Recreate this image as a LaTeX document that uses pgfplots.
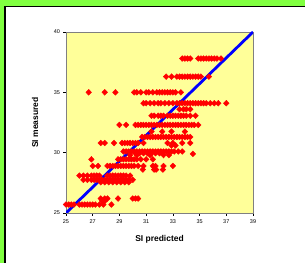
\documentclass[border=0pt]{standalone}
\usepackage{pgfplots}
\pgfplotsset{compat=1.18}
\usepackage{fontspec}
\setmainfont{Liberation Sans}
\definecolor{framegreen}{RGB}{128,255,64}
\definecolor{plotyellow}{RGB}{255,255,153}
\begin{document}
\begin{tikzpicture}[x=1bp,y=1bp]
\useasboundingbox (0,0) rectangle (305,263);
\fill[white] (0,0) rectangle (305,263);
\fill[framegreen] (0,0) rectangle (4.5,263);
\fill[framegreen] (0,257) rectangle (305,263);
\draw[black,line width=1.5bp] (5.2,0) -- (5.2,256.3) -- (305,256.3);
\begin{axis}[
  at={(66bp,50bp)}, anchor=south west,
  scale only axis, width=187bp, height=181bp,
  xmin=25, xmax=39, ymin=25, ymax=40,
  xtick={25,27,...,39}, ytick={25,30,35,40},
  axis background/.style={fill=plotyellow},
  axis line style={draw=gray},
  tick style={black, line width=0.5bp},
  tick align=outside, major tick length=2.5bp,
  xtick pos=bottom, ytick pos=left,
  tick label style={font=\fontsize{5.5}{6}\selectfont, /pgf/number format/assume math mode=true},
  x tick label style={yshift=-1bp},
  xlabel={\textbf{SI predicted}}, ylabel={\textbf{SI measured}},
  label style={font=\fontsize{8.5}{10}\selectfont},
  xlabel style={at={(axis description cs:0.5,-0.145)}, anchor=center},
  ylabel style={at={(axis description cs:-0.165,0.5)}, anchor=center},
]
\addplot[only marks, mark=diamond*, mark size=2.9bp, red, mark options={draw=red, fill=red, xscale=1.3}] coordinates {
(33.7,37.8)(33.9,37.8)(34.1,37.8)(34.3,37.8)(34.9,37.8)(35.1,37.8)(35.3,37.8)(35.5,37.8)(35.7,37.8)(35.9,37.8)(36.1,37.8)(36.3,37.8)(36.6,37.8)
(32.5,36.3)(32.9,36.3)(33.3,36.3)(33.5,36.3)(33.7,36.3)(33.9,36.3)(34.1,36.3)(34.3,36.3)(34.5,36.3)(34.7,36.3)(34.9,36.3)(35.1,36.3)(35.7,36.3)
(26.7,35.0)(27.9,35.0)(28.7,35.0)(30.1,35.0)(30.3,35.0)(30.6,35.0)(31.0,35.0)(31.2,35.0)(31.5,35.0)(31.8,35.0)(32.0,35.0)(32.2,35.0)(32.4,35.0)(32.6,35.0)(32.8,35.0)(33.0,35.0)(33.2,35.0)(33.6,35.0)
(30.8,34.1)(31.0,34.1)(31.3,34.1)(31.6,34.1)(31.9,34.1)(32.1,34.1)(32.4,34.1)(32.7,34.1)(33.0,34.1)(33.3,34.1)(33.5,34.1)(33.7,34.1)(33.9,34.1)(34.1,34.1)(34.3,34.1)(34.5,34.1)(34.7,34.1)(34.9,34.1)(35.1,34.1)(35.3,34.1)(35.5,34.1)(35.8,34.1)(36.1,34.1)(36.4,34.1)(37.0,34.1)
(33.5,33.6)(33.8,33.6)(34.0,33.6)(34.3,33.6)
(31.4,33.06)(31.6,33.06)(31.9,33.06)(32.1,33.06)(32.3,33.06)(32.6,33.06)(32.8,33.06)(33.0,33.06)(33.2,33.06)(33.4,33.06)(33.6,33.06)(33.8,33.06)(34.0,33.06)(34.3,33.06)(34.7,33.06)
(29.0,32.3)(29.5,32.3)(30.2,32.3)(30.4,32.3)(30.6,32.3)(30.8,32.3)(31.0,32.3)(31.2,32.3)(31.4,32.3)(31.6,32.3)(31.8,32.3)(32.0,32.3)(32.2,32.3)(32.4,32.3)(32.6,32.3)(32.8,32.3)(33.0,32.3)(33.2,32.3)(33.4,32.3)(33.6,32.3)(33.8,32.3)(34.0,32.3)(34.2,32.3)(34.4,32.3)(34.6,32.3)(34.9,32.3)
(31.4,31.75)(32.2,31.75)(32.9,31.75)(33.9,31.75)
(30.7,31.3)(30.9,31.3)(31.1,31.3)(31.3,31.3)(31.5,31.3)(31.7,31.3)(31.9,31.3)(32.1,31.3)(32.3,31.3)(32.5,31.3)(32.7,31.3)(32.9,31.3)(33.1,31.3)(33.3,31.3)(33.5,31.3)(33.7,31.3)(33.9,31.3)(34.1,31.3)(34.3,31.3)
(27.6,30.8)(27.9,30.8)(28.6,30.8)(29.2,30.8)(29.4,30.8)(29.6,30.8)(29.8,30.8)(30.0,30.8)(30.2,30.8)(30.4,30.8)(30.8,30.8)(32.6,30.8)(33.0,30.8)(33.7,30.8)(34.3,30.8)
(32.9,30.6)(33.2,30.6)
(29.3,30.1)(29.5,30.1)(29.7,30.1)(29.9,30.1)(30.1,30.1)(30.3,30.1)(30.5,30.1)(30.7,30.1)(30.9,30.1)(31.1,30.1)(31.3,30.1)(31.5,30.1)(31.7,30.1)(31.9,30.1)(32.1,30.1)(32.3,30.1)(32.5,30.1)(32.7,30.1)(32.9,30.1)(33.1,30.1)(33.4,30.1)(33.7,30.1)(34.5,29.9)
(30.2,29.95)(30.5,29.95)(30.8,29.95)(31.1,29.95)(31.4,29.95)(31.7,29.95)(32.0,29.95)
(29.8,29.8)(30.3,29.8)(31.3,29.8)(32.3,29.8)(32.7,29.8)
(26.9,29.45)(28.9,29.45)(29.1,29.45)(29.3,29.45)(29.5,29.45)(29.7,29.45)(29.9,29.45)(30.1,29.45)(30.3,29.45)(30.6,29.45)(31.0,29.45)(31.5,29.45)
(27.0,28.9)(27.4,28.9)(28.1,28.9)(28.3,28.9)(28.5,28.9)(28.7,28.9)(28.9,28.9)(29.1,28.9)(29.3,28.9)(29.5,28.9)(29.7,28.9)(29.9,28.9)(30.1,28.9)(30.4,28.9)(30.8,28.9)(31.5,28.9)(31.7,28.9)(32.3,28.9)(33.0,28.9)
(30.75,28.6)(31.6,28.6)(31.75,28.6)(32.25,28.6)
(26.0,28.1)(26.3,28.1)(26.6,28.1)(26.9,28.1)(27.1,28.1)(27.3,28.1)(27.5,28.1)(28.1,28.1)(28.3,28.1)(28.5,28.1)(28.7,28.1)(28.9,28.1)(29.1,28.1)(29.3,28.1)(29.5,28.1)(29.8,28.1)
(26.3,27.75)(26.6,27.75)(26.9,27.75)(27.1,27.75)(27.3,27.75)(27.5,27.75)(27.7,27.75)(27.9,27.75)(28.1,27.75)(28.3,27.75)(28.5,27.75)(28.7,27.75)(28.9,27.75)(29.1,27.75)(29.3,27.75)(29.5,27.75)(29.7,27.75)(30.0,27.75)
(27.6,27.55)(27.9,27.55)(28.2,27.55)(28.5,27.55)(28.8,27.55)(29.1,27.55)(29.4,27.55)(29.7,27.55)
(27.6,26.2)(27.9,26.2)(28.1,26.2)(28.9,26.2)(30.0,26.2)(30.2,26.2)(30.4,26.2)
(27.7,26.0)(27.9,26.0)
(25.0,25.7)(25.2,25.7)(25.4,25.7)(25.6,25.7)(26.0,25.7)(26.2,25.7)(26.4,25.7)(26.6,25.7)(26.8,25.7)(27.0,25.7)(27.2,25.7)(27.5,25.7)(27.8,25.7)(28.4,25.7)
};
\addplot[blue, line width=2.8bp, no marks] coordinates {(25,25)(39,40)};
\end{axis}
\end{tikzpicture}
\end{document}
